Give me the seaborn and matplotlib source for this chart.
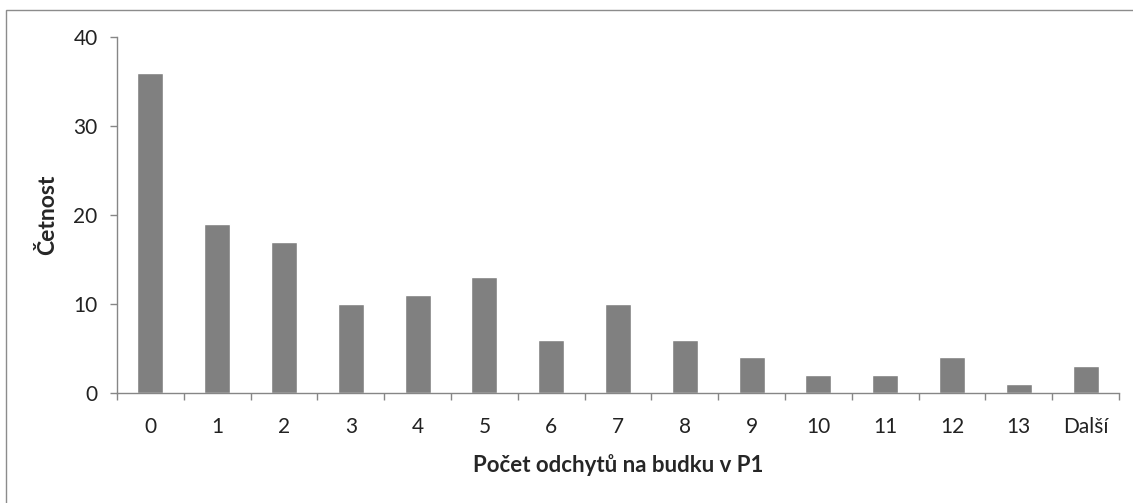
import matplotlib
matplotlib.use("Agg")
import matplotlib.pyplot as plt
import seaborn as sns
import pandas as pd
import numpy as np
from matplotlib.patches import Rectangle

categories = ["0", "1", "2", "3", "4", "5", "6", "7", "8", "9", "10", "11", "12", "13", "Další"]
counts = [36, 19, 17, 10, 11, 13, 6, 10, 6, 4, 2, 2, 4, 1, 3]

df = pd.DataFrame({"kategorie": categories, "cetnost": counts})

sns.set_style("white")
plt.rcParams['font.family'] = ['Lato', 'DejaVu Sans']

axis_col = "#868686"

fig = plt.figure(figsize=(11.33, 5.03), dpi=100)
ax = fig.add_axes([117/1133, 1 - 393/503, (1119 - 117)/1133, (393 - 37)/503])

sns.barplot(data=df, x="kategorie", y="cetnost", color="#808080", width=0.39,
            saturation=1, ax=ax, order=categories)

ax.set_ylim(0, 40)
ax.set_xlim(-0.5, len(categories) - 0.5)
ax.set_yticks([0, 10, 20, 30, 40])

# frame of the plot area: only left and bottom axis lines
for side in ["top", "right"]:
    ax.spines[side].set_visible(False)
for side in ["left", "bottom"]:
    ax.spines[side].set_color(axis_col)
    ax.spines[side].set_linewidth(1.0)

ax.tick_params(axis="y", which="major", left=True, direction="out", length=5, width=1,
               color=axis_col, pad=9, labelsize=15, labelcolor="#222222")
ax.tick_params(axis="x", which="major", bottom=True, length=0, pad=17, labelsize=15,
               labelcolor="#222222")
# ticks between the categories
ax.set_xticks(np.arange(-0.5, len(categories), 1.0), minor=True)
ax.tick_params(axis="x", which="minor", bottom=True, direction="out", length=5, width=1,
               color=axis_col)

ax.set_xlabel("Počet odchytů na budku v P1", fontsize=16, fontweight="bold")
ax.set_ylabel("Četnost", fontsize=16.5, fontweight="bold")
ax.yaxis.set_label_coords(-69/1002, 0.5)
ax.xaxis.set_label_coords(0.5, -(465 - 393)/356, )
ax.xaxis.label.set_va("center")
ax.yaxis.label.set_va("center")

# outer chart border
fig.patches.append(Rectangle((6/1133, -0.1), 1.2, 1 - 10/503 + 0.1, transform=fig.transFigure,
                             fill=False, edgecolor="#8c8c8c", linewidth=1.0))

fig.savefig("out.png", dpi=100)
